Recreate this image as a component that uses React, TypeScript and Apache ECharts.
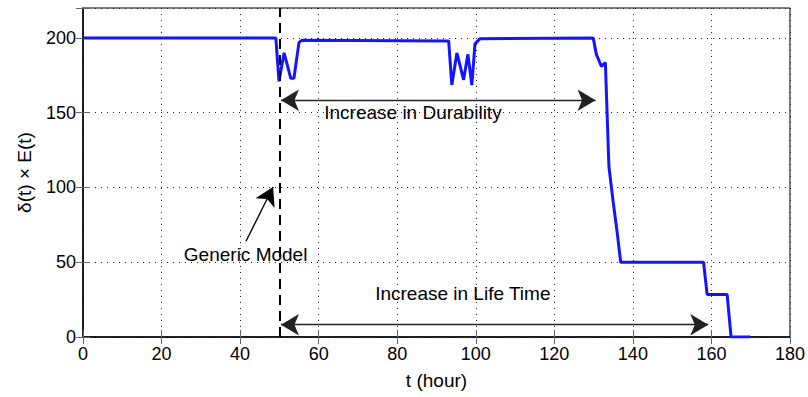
import React, { useEffect, useRef } from "react";
import * as echarts from "echarts";

const tValues = [0, 49.1, 49.9, 51.2, 52.9, 53.7, 55.0, 55.8, 93.1, 93.9, 95.2, 96.9, 98.0, 99.0, 99.8, 101.1, 129.9, 130.7, 132.0, 133.0, 133.9, 135.0, 136.0, 136.9, 158.0, 158.9, 164.0, 165.0, 169.9];
const yValues = [200, 200, 171, 190, 173, 173, 197, 198.5, 198, 168.5, 190, 172, 189, 168.5, 196, 199.5, 200, 189, 181, 183.5, 114, 90, 70, 50, 50, 28.5, 28.5, 0, 0];

const xTicks = { min: 0, max: 180, interval: 20 };
const yTicks = { min: 0, max: 220, interval: 50 };

const genericModelX = 50;
const durabilityArrow = { from: [50.4, 158.3], to: [130.5, 158.3] };
const lifeTimeArrow = { from: [50.4, 8.2], to: [159.2, 8.2] };
const genericArrow = { from: [41.5, 64], to: [48.4, 100.3] };

const annotations = [
  { text: "Increase in Durability", at: [84, 149.8] },
  { text: "Increase in Life Time", at: [96.7, 29.4] },
  { text: "Generic Model", at: [41.4, 55] },
];

const FONT = "Liberation Sans, Arial, Helvetica, sans-serif";

export default function App() {
  const ref = useRef<HTMLDivElement>(null);
  useEffect(() => {
    if (!ref.current) return;
    const chart = echarts.init(ref.current, null, { renderer: "svg" });
    const data = tValues.map((t, i) => [t, yValues[i]]);
    const gridLine = { show: true, lineStyle: { type: [1, 5], color: "#222", width: 1 } };
    const arrowLine = { color: "#222", width: 1.3, type: "solid" as const };
    chart.setOption({
      animation: false,
      textStyle: { fontFamily: FONT },
      grid: { left: 83, right: 16, top: 8, bottom: 60, show: true, borderColor: "#000", borderWidth: 1 },
      xAxis: [
        {
          type: "value",
          min: xTicks.min,
          max: xTicks.max,
          interval: xTicks.interval,
          name: "t (hour)",
          nameLocation: "middle",
          nameGap: 34,
          nameTextStyle: { fontSize: 19, color: "#000", fontFamily: FONT },
          axisLine: { show: true, lineStyle: { color: "#000", width: 1.5 } },
          axisTick: { show: true, inside: true, length: 7, lineStyle: { color: "#666" } },
          axisLabel: { fontSize: 18, color: "#000", margin: 8, fontFamily: FONT },
          splitLine: gridLine,
        },
        {
          type: "value",
          position: "top",
          min: xTicks.min,
          max: xTicks.max,
          interval: xTicks.interval,
          axisLine: { show: false },
          axisTick: { show: true, inside: true, length: 7, lineStyle: { color: "#666" } },
          axisLabel: { show: false },
          splitLine: { show: false },
        },
      ],
      yAxis: [
        {
          type: "value",
          min: yTicks.min,
          max: yTicks.max,
          interval: yTicks.interval,
          name: "δ(t) × E(t)",
          nameLocation: "middle",
          nameGap: 49,
          nameTextStyle: { fontSize: 19, color: "#000", fontFamily: FONT },
          axisLine: { show: true, lineStyle: { color: "#000", width: 1.5 } },
          axisTick: { show: true, inside: true, length: 7, lineStyle: { color: "#666" } },
          axisLabel: {
            fontSize: 18,
            color: "#000",
            margin: 7,
            fontFamily: FONT,
            formatter: (v: number) => (v > 200 ? "" : String(v)),
          },
          splitLine: gridLine,
        },
        {
          type: "value",
          position: "right",
          min: yTicks.min,
          max: yTicks.max,
          interval: yTicks.interval,
          axisLine: { show: false },
          axisTick: { show: true, inside: true, length: 7, lineStyle: { color: "#666" } },
          axisLabel: { show: false },
          splitLine: { show: false },
        },
      ],
      series: [
        {
          type: "line",
          data,
          symbol: "none",
          lineStyle: { color: "#1414ff", width: 3 },
          itemStyle: { color: "#1414ff" },
          z: 3,
          markLine: {
            silent: true,
            symbol: ["arrow", "arrow"],
            symbolSize: [16, 18],
            label: { show: false },
            emphasis: { disabled: true },
            itemStyle: { color: "#000" },
            data: [
              [
                { coord: [genericModelX, yTicks.min], symbol: "none", lineStyle: { color: "#000", width: 2, type: [10, 6] } },
                { coord: [genericModelX, yTicks.max], symbol: "none" },
              ],
              [
                { coord: durabilityArrow.from, symbol: "arrow", lineStyle: arrowLine },
                { coord: durabilityArrow.to, symbol: "arrow" },
              ],
              [
                { coord: lifeTimeArrow.from, symbol: "arrow", lineStyle: arrowLine },
                { coord: lifeTimeArrow.to, symbol: "arrow" },
              ],
              [
                { coord: genericArrow.from, symbol: "none", lineStyle: { color: "#000", width: 1.3, type: "solid" } },
                { coord: genericArrow.to, symbol: "arrow" },
              ],
            ],
          },
          markPoint: {
            silent: true,
            symbol: "rect",
            symbolSize: 0,
            data: annotations.map((a) => ({
              coord: a.at,
              label: {
                show: true,
                position: "inside",
                formatter: a.text,
                fontSize: 19,
                color: "#000",
                fontFamily: FONT,
              },
            })),
          },
        },
      ],
    });
    return () => chart.dispose();
  }, []);
  return (
    <div
      ref={ref}
      style={{ position: "absolute", left: 0, top: 0, width: 808, height: 397, background: "#fff" }}
    />
  );
}
